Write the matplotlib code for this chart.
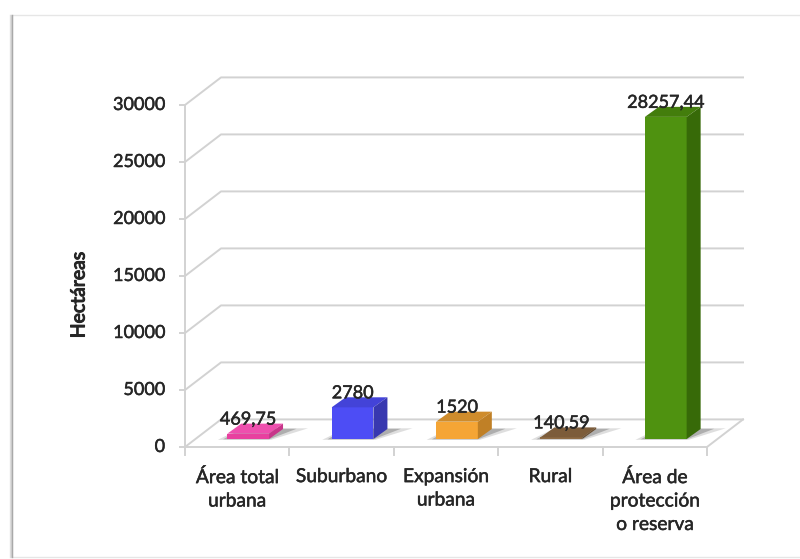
import matplotlib
matplotlib.use('Agg')
import matplotlib.pyplot as plt
from matplotlib.patches import Polygon, Rectangle
import matplotlib.patheffects as pe

plt.rcParams['font.family'] = ['Lato', 'DejaVu Sans']

categories = ['Área total\nurbana', 'Suburbano', 'Expansión\nurbana', 'Rural', 'Área de\nprotección\no reserva']
values = [469.75, 2780, 1520, 140.59, 28257.44]
value_labels = ['469,75', '2780', '1520', '140,59', '28257,44']
y_ticks = [0, 5000, 10000, 15000, 20000, 25000, 30000]
front_colors = ['#e8409f', '#4d4df5', '#f5a535', '#8f6c45', '#4f9210']
top_colors = ['#ee4fae', '#4343d8', '#cf8c2c', '#7c5c3a', '#437d0c']
side_colors = ['#c8358a', '#3838b0', '#c08026', '#6a4e30', '#376a08']

GRID = '#d2d2d2'
TEXT = '#262626'
heavy = [pe.withStroke(linewidth=0.35, foreground=TEXT)]

# 3d look, in data units (1 category = 104.4 px, 1000 ha = 11.4 px)
wall_dx, wall_dy = 0.345, 2420
bar_dx, bar_dy = 0.105, -700
depth_dx, depth_dy = 0.134, 880
bar_w = 0.40

fig = plt.figure(figsize=(8, 5.59), dpi=100)

# card behind the chart, shadow on the left edge only
bg = fig.add_axes([0, 0, 1, 1])
bg.set_xlim(0, 800)
bg.set_ylim(559, 0)
bg.axis('off')
bg.add_patch(Rectangle((12, 15), 800, 542, fc='white', ec='#e6e6e6', lw=1))
for i in range(5):
    bg.plot([9.5 + i * 0.7] * 2, [15, 557], color='#8a8a8a', lw=1, alpha=0.08 + i * 0.09)

ax = fig.add_axes([185 / 800, 112 / 559, 522 / 800, 342 / 559])
ax.set_xlim(-0.5, 4.5)
ax.set_ylim(0, 30000)
ax.axis('off')

# back wall lines and left side
for t in y_ticks:
    ax.plot([-0.5, -0.5 + wall_dx, 4.5 + wall_dx], [t, t + wall_dy, t + wall_dy],
            color=GRID, lw=1.4, clip_on=False, zorder=1)
    ax.plot([-0.55, -0.5], [t, t], color=GRID, lw=1.4, clip_on=False, zorder=1)
    ax.annotate(str(t), (-0.5, t), xytext=(-20, 0), textcoords='offset pixels',
                ha='right', va='center', fontsize=13, color=TEXT, annotation_clip=False,
                path_effects=heavy)
ax.plot([-0.5, -0.5], [0, 30000], color=GRID, lw=1.4, clip_on=False, zorder=1)

# floor
ax.plot([-0.5, 4.5, 4.5 + wall_dx], [0, 0, wall_dy], color=GRID, lw=1.4, clip_on=False, zorder=1)
for k in range(6):
    ax.plot([k - 0.5, k - 0.5], [0, -700], color=GRID, lw=1.4, clip_on=False, zorder=1)

for i, cat in enumerate(categories):
    ax.text(i, -1850, cat, ha='center', va='top', fontsize=13.8, color=TEXT,
            linespacing=1.46, clip_on=False, path_effects=heavy)

# bars
for i, v in enumerate(values):
    x0 = i + bar_dx - bar_w / 2
    x1 = x0 + bar_w
    base = -bar_dy
    top = base + v

    # floor shadow, wide and pale then narrow and darker
    ax.add_patch(Polygon([(x0 - 0.09, base - 70), (x1 + 0.02, base - 70),
                          (x1 + depth_dx + 0.24, base + depth_dy + 60),
                          (x0 + depth_dx, base + depth_dy + 60)],
                         fc='#c4c4c4', ec='none', alpha=0.55, zorder=2, clip_on=False))
    ax.add_patch(Polygon([(x0 - 0.04, base - 30), (x1, base - 30),
                          (x1 + depth_dx + 0.13, base + depth_dy + 20),
                          (x0 + depth_dx, base + depth_dy + 20)],
                         fc='#8e8e8e', ec='none', alpha=0.6, zorder=3, clip_on=False))
    ax.bar(x0, v, width=bar_w, bottom=base, align='edge', color=front_colors[i], zorder=4, clip_on=False)
    ax.add_patch(Polygon([(x0, top), (x1, top), (x1 + depth_dx, top + depth_dy), (x0 + depth_dx, top + depth_dy)],
                         fc=top_colors[i], ec='none', zorder=4, clip_on=False))
    ax.add_patch(Polygon([(x1, base), (x1 + depth_dx, base + depth_dy), (x1 + depth_dx, top + depth_dy), (x1, top)],
                         fc=side_colors[i], ec='none', zorder=4, clip_on=False))
    ax.annotate(value_labels[i], (i + bar_dx, top + depth_dy), xytext=(0, 4), textcoords='offset pixels',
                ha='center', va='center', fontsize=13, color=TEXT, zorder=5, annotation_clip=False,
                path_effects=heavy)

fig.text(79 / 800, 1 - 295 / 559, 'Hectáreas', rotation=90, ha='center', va='center',
         fontsize=14, color=TEXT, path_effects=[pe.withStroke(linewidth=0.8, foreground=TEXT)])

fig.savefig('out.png', dpi=100)
